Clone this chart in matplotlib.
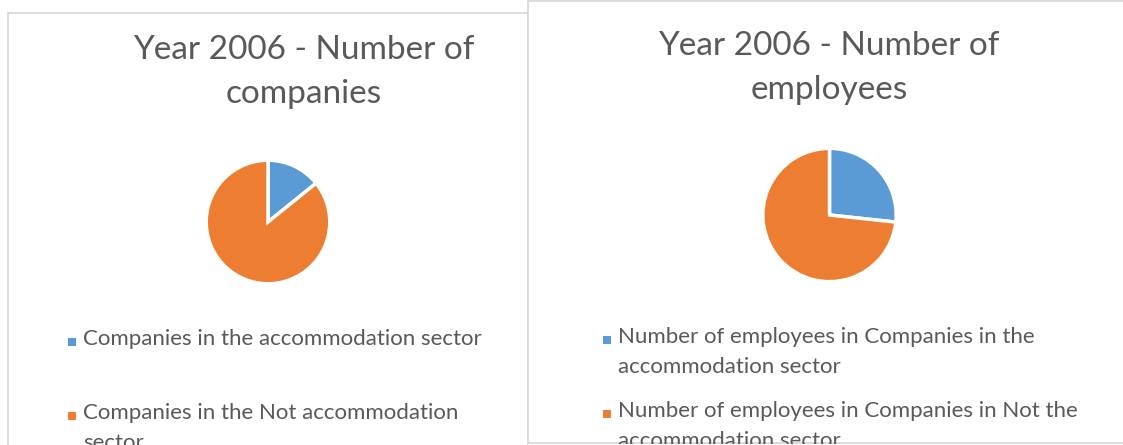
import matplotlib.pyplot as plt
from matplotlib.patches import Rectangle

W, H = 1123, 445

colors = ['#5B9BD5', '#ED7D31']
text_color = '#595959'
border_color = '#D9D9D9'

# Year 2006 shares (percent)
companies = [14.2, 85.8]
employees = [26.7, 73.3]

company_labels = ['Companies in the accommodation sector',
                  'Companies in the Not accommodation\nsector']
employee_labels = ['Number of employees in Companies in the\naccommodation sector',
                   'Number of employees in Companies in Not the\naccommodation sector']

plt.rcParams['font.family'] = ['Lato', 'DejaVu Sans']

fig = plt.figure(figsize=(W / 100, H / 100), dpi=100)


def fx(x):
    return x / W


def fy(y):
    return 1 - y / H


def panel(x0, y0, x1, y1):
    r = Rectangle((fx(x0), fy(y1)), fx(x1 - x0), (y1 - y0) / H,
                  transform=fig.transFigure, facecolor='white',
                  edgecolor=border_color, linewidth=1.3, zorder=0)
    fig.patches.append(r)


def pie_at(cx, cy, r, values):
    ax = fig.add_axes([fx(cx - r), fy(cy + r), fx(2 * r), 2 * r / H], zorder=3)
    ax.pie(values, colors=colors, startangle=90, counterclock=False,
           wedgeprops=dict(edgecolor='white', linewidth=2.5))
    ax.set_xlim(-1.02, 1.02)
    ax.set_ylim(-1.02, 1.02)
    ax.set_aspect('equal')
    ax.axis('off')


def legend_at(x, ys, labels):
    for y, lab, c in zip(ys, labels, colors):
        fig.patches.append(Rectangle((fx(x), fy(y + 4)), fx(8), 8 / H,
                                     transform=fig.transFigure,
                                     facecolor=c, edgecolor='none', zorder=2))
        fig.text(fx(x + 15), fy(y - 13), lab, ha='left', va='top',
                 fontsize=16, color=text_color, linespacing=1.62, zorder=2)


# left chart
panel(8, 13, 528, 470)
fig.text(fx(304), fy(72), 'Year 2006 - Number of\ncompanies', ha='center',
         va='center', fontsize=24, color=text_color, linespacing=1.57)
pie_at(268, 222, 63, companies)
legend_at(68, [342, 416], company_labels)

# right chart
panel(528, 1, 1140, 443)
fig.text(fx(829), fy(68), 'Year 2006 - Number of\nemployees', ha='center',
         va='center', fontsize=24, color=text_color, linespacing=1.57)
pie_at(829.5, 215, 68, employees)
legend_at(603, [340, 414], employee_labels)

# bottom edge of the right chart hides the wrapped text below it
fig.patches.append(Rectangle((fx(528), 0), fx(600), 1.5 / H,
                             transform=fig.transFigure, facecolor='white',
                             edgecolor='none', zorder=5))

fig.savefig('out.png', dpi=100)
